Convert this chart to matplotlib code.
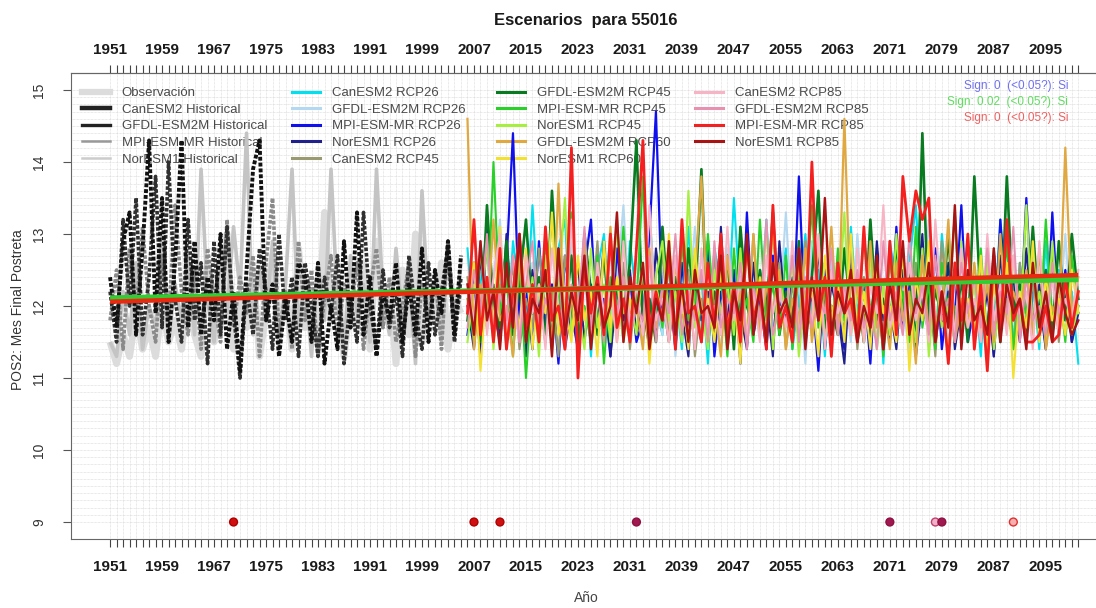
import numpy as np
import matplotlib
matplotlib.use("Agg")
import matplotlib.pyplot as plt
from matplotlib.lines import Line2D
from matplotlib.legend import Legend

plt.rcParams['font.family'] = ['Liberation Sans', 'DejaVu Sans']

# ---- data: month of final post-rain period (POS2) for station 55016 ----
years_hist = np.arange(1951, 2006)
years_fut = np.arange(2006, 2101)

obs = [11.5, 11.2, 11.6, 11.3, 11.9, 11.4, 11.7, 11.3, 12.0, 11.5, 11.8, 11.4, 12.2, 11.6, 11.3,
       12.6, 11.5, 12.3, 13.0, 11.4, 12.1, 11.7, 12.5, 11.3, 11.9, 12.7, 11.6, 12.2, 11.4, 12.8,
       11.7, 12.0, 11.5, 13.3, 11.8, 12.4, 11.3, 12.1, 11.7, 12.6, 11.4, 12.9, 11.8, 12.3, 11.2,
       12.5, 11.6, 13.0, 11.5, 12.2, 11.8, 12.6, 11.4, 12.1, 11.9]
can_hist = [12.4, 11.7, 12.9, 13.3, 11.6, 12.8, 14.3, 11.9, 13.5, 11.5, 12.6, 14.3, 11.7, 12.9, 11.6,
            12.4, 11.8, 13.0, 11.4, 12.2, 11.1, 12.5, 13.9, 14.3, 11.8, 12.3, 11.3, 12.1, 11.5, 12.6,
            12.4, 11.5, 12.6, 11.2, 12.0, 11.4, 12.9, 11.7, 13.3, 11.6, 12.4, 11.3, 12.2, 11.8, 12.6,
            11.5, 12.3, 11.6, 12.8, 11.5, 12.5, 11.9, 12.9, 11.6, 12.7]
gfdl_hist = [12.2, 11.5, 13.2, 12.0, 13.5, 11.6, 12.4, 13.8, 11.7, 14.0, 12.1, 11.5, 13.2, 11.8, 12.6,
             11.2, 12.9, 11.6, 13.1, 11.9, 11.0, 12.3, 11.6, 12.8, 12.2, 11.4, 13.0, 11.8, 12.4, 11.3,
             12.6, 12.0, 11.3, 12.4, 11.9, 12.7, 11.2, 12.1, 11.5, 13.3, 12.0, 11.4, 12.5, 11.7, 12.2,
             11.3, 12.7, 11.9, 11.4, 12.6, 11.6, 12.2, 12.8, 11.5, 12.4]
mpi_hist = [11.8, 12.5, 11.4, 12.8, 11.9, 13.1, 12.0, 11.5, 12.7, 11.8, 13.4, 12.2, 11.6, 12.5, 11.4,
            12.8, 12.1, 11.5, 13.2, 11.7, 12.4, 11.9, 12.7, 11.3, 12.6, 13.5, 11.6, 12.2, 11.4, 12.9,
            11.8, 12.5, 11.3, 12.1, 12.7, 11.5, 12.3, 11.9, 12.6, 11.4, 12.2, 12.8, 11.7, 12.4, 11.5,
            12.0, 12.6, 11.3, 12.3, 11.8, 12.5, 11.4, 12.9, 11.8, 12.2]
nor_hist = [11.5, 11.3, 12.2, 11.6, 12.6, 11.4, 12.0, 11.7, 13.0, 11.5, 12.3, 11.8, 12.7, 11.6, 13.9,
            12.1, 11.5, 12.8, 11.9, 13.1, 12.2, 14.4, 11.6, 12.5, 11.8, 12.9, 11.4, 12.3, 13.9, 11.7,
            12.4, 11.3, 12.6, 11.8, 13.9, 12.0, 11.4, 12.7, 11.9, 12.3, 11.5, 13.9, 12.1, 11.6, 12.8,
            11.8, 12.4, 11.2, 13.6, 11.9, 12.3, 11.5, 12.9, 11.7, 12.6]

can26 = [12.8, 11.6, 12.3, 13.1, 11.8, 12.5, 11.4, 12.9, 12.2, 11.7,
         13.4, 11.9, 12.4, 11.5, 12.8, 13.2, 11.6, 12.1, 12.7, 11.3,
         12.5, 13.0, 11.8, 12.3, 11.5, 12.9, 12.1, 11.7, 13.3, 12.0,
         11.6, 12.6, 12.2, 11.4, 13.1, 11.9, 12.4, 11.2, 12.8, 12.3,
         11.7, 13.5, 12.0, 11.5, 12.6, 11.9, 13.2, 11.6, 12.3, 12.8,
         11.4, 12.1, 13.0, 11.8, 12.5, 11.3, 12.7, 12.2, 11.6, 13.1,
         11.9, 12.4, 11.5, 12.8, 11.2, 12.9, 12.3, 11.7, 12.6, 13.4,
         11.8, 12.2, 11.4, 13.0, 12.1, 11.6, 12.7, 11.9, 12.4, 11.3,
         12.8, 11.7, 13.2, 12.0, 11.5, 12.6, 11.8, 12.3, 11.4, 12.9,
         11.6, 12.5, 11.9, 12.2, 11.2]
gfdl26 = [12.3, 11.5, 12.9, 11.8, 12.4, 13.2, 11.6, 12.0, 12.7, 11.4,
          12.6, 11.9, 13.0, 11.5, 12.2, 11.8, 12.9, 11.3, 12.5, 12.1,
          11.7, 12.8, 11.4, 12.3, 13.4, 11.8, 12.0, 11.5, 12.7, 12.2,
          11.6, 12.9, 11.3, 12.4, 11.9, 13.1, 11.7, 12.5, 12.0, 11.4,
          12.8, 11.6, 12.3, 13.0, 11.8, 12.2, 11.5, 12.6, 11.9, 13.3,
          11.7, 12.4, 11.2, 12.9, 12.1, 11.6, 12.7, 11.9, 12.3, 11.5,
          13.0, 11.8, 12.5, 11.4, 12.2, 12.8, 11.6, 12.1, 11.3, 12.6,
          11.9, 13.2, 11.7, 12.4, 11.5, 12.0, 12.9, 11.8, 12.3, 11.6,
          12.7, 11.4, 12.2, 13.1, 11.9, 12.5, 11.6, 12.8, 12.0, 11.5,
          12.4, 11.8, 13.0, 11.7, 12.1]
mpi26 = [11.6, 12.4, 11.3, 13.1, 12.0, 11.5, 12.6, 14.4, 11.8, 12.2,
         11.4, 12.9, 11.7, 12.3, 11.2, 12.7, 11.9, 11.4, 12.5, 13.2,
         11.6, 12.1, 11.3, 12.8, 11.9, 12.4, 11.5, 11.8, 13.0, 14.7,
         11.9, 12.3, 11.4, 12.6, 11.7, 12.0, 11.5, 12.9, 11.3, 12.2,
         11.8, 12.5, 11.2, 13.3, 11.6, 12.1, 11.4, 12.7, 11.9, 12.3,
         11.5, 13.8, 11.7, 12.2, 11.1, 12.6, 11.8, 12.0, 11.4, 12.9,
         11.6, 12.3, 11.2, 12.7, 11.9, 11.5, 13.1, 11.7, 12.4, 11.3,
         12.1, 11.6, 12.8, 11.4, 12.2, 11.8, 13.4, 11.5, 12.0, 11.7,
         12.6, 11.3, 13.2, 11.9, 12.4, 11.6, 13.5, 11.8, 12.1, 11.4,
         13.3, 11.7, 12.5, 11.5, 11.9]
nor26 = [12.0, 11.4, 12.7, 11.8, 12.3, 11.5, 13.0, 11.7, 12.2, 11.3,
         12.5, 11.9, 12.1, 11.6, 12.8, 11.4, 12.0, 12.6, 11.5, 12.3,
         11.7, 12.9, 11.3, 12.2, 11.8, 12.5, 11.6, 12.0, 11.4, 12.8,
         12.1, 11.5, 12.4, 11.9, 11.3, 12.7, 11.8, 12.2, 11.6, 13.1,
         11.5, 12.3, 11.9, 11.4, 12.6, 11.7, 12.1, 11.3, 12.9, 11.8,
         12.4, 11.5, 12.0, 11.7, 12.8, 11.4, 12.3, 11.9, 11.2, 12.6,
         11.7, 12.2, 11.5, 12.9, 11.8, 12.0, 11.4, 12.5, 11.6, 12.1,
         13.0, 11.5, 12.3, 11.7, 12.6, 11.4, 12.0, 11.8, 12.4, 11.6,
         12.2, 11.3, 12.7, 11.9, 12.1, 11.5, 12.8, 11.7, 12.3, 11.4,
         12.6, 11.8, 12.2, 11.5, 12.0]
can45 = [12.4, 11.6, 12.0, 12.9, 11.5, 12.3, 11.8, 12.6, 11.4, 12.1,
         11.7, 12.8, 11.9, 12.2, 11.3, 12.7, 12.0, 11.6, 12.4, 11.8,
         12.9, 11.5, 12.2, 11.7, 12.6, 11.4, 12.3, 11.9, 12.0, 11.6,
         12.8, 11.5, 12.3, 11.8, 12.5, 11.3, 12.1, 11.9, 12.7, 11.6,
         12.2, 11.8, 12.4, 11.5, 13.0, 11.7, 12.1, 11.9, 12.6, 11.4,
         12.3, 11.8, 12.9, 11.6, 12.2, 11.5, 12.5, 11.9, 11.7, 12.8,
         11.4, 12.4, 11.8, 12.1, 11.6, 12.7, 11.9, 12.2, 11.5, 12.6,
         11.8, 12.3, 11.3, 12.9, 11.7, 12.0, 11.6, 12.5, 11.9, 12.2,
         11.5, 12.8, 11.7, 12.1, 11.4, 12.6, 11.9, 12.3, 11.6, 12.0,
         12.7, 11.5, 12.4, 11.8, 12.2]
gfdl45 = [11.8, 12.6, 11.5, 13.4, 12.0, 11.7, 12.9, 11.6, 12.3, 13.2,
          11.9, 12.4, 11.5, 13.6, 12.1, 11.8, 12.7, 11.4, 13.0, 12.2,
          11.6, 12.8, 11.5, 12.3, 11.9, 12.6, 14.3, 11.7, 12.1, 11.5,
          13.1, 11.9, 12.4, 11.6, 12.8, 12.0, 13.9, 11.5, 12.2, 11.8,
          12.7, 11.4, 13.1, 12.0, 11.7, 12.5, 11.9, 13.3, 11.6, 12.2,
          11.8, 12.9, 11.5, 12.4, 13.6, 11.7, 12.0, 11.6, 12.8, 11.9,
          12.3, 11.5, 13.2, 11.8, 12.1, 11.6, 12.9, 11.9, 12.5, 11.4,
          14.4, 11.7, 12.2, 11.9, 13.0, 11.6, 12.4, 11.5, 13.8, 12.0,
          11.7, 12.6, 11.5, 13.8, 11.9, 12.3, 11.6, 13.1, 11.8, 12.5,
          11.6, 12.9, 11.8, 13.0, 12.1]
mpi45 = [12.1, 11.5, 12.8, 11.7, 14.0, 11.9, 12.4, 11.3, 12.6, 11.0,
         12.3, 11.8, 12.9, 11.4, 12.2, 11.6, 13.3, 11.9, 12.0, 11.5,
         12.7, 11.2, 12.4, 11.8, 13.1, 11.6, 12.0, 13.8, 11.5, 12.3,
         11.7, 12.6, 11.4, 12.9, 11.8, 12.2, 11.5, 13.0, 11.9, 12.4,
         11.3, 12.8, 11.7, 12.1, 11.5, 13.2, 11.8, 12.3, 11.6, 12.7,
         11.4, 12.5, 11.9, 13.4, 11.7, 12.2, 11.5, 12.8, 11.8, 12.0,
         11.6, 13.0, 11.9, 12.4, 11.3, 12.7, 11.8, 12.2, 11.5, 13.1,
         11.7, 12.3, 11.4, 12.6, 11.9, 13.3, 11.6, 12.1, 11.8, 12.8,
         11.5, 12.4, 11.7, 12.9, 11.4, 12.2, 11.9, 12.6, 11.6, 13.2,
         11.8, 12.3, 11.5, 12.7, 11.9]
nor45 = [11.5, 12.3, 11.8, 12.9, 11.4, 12.6, 11.7, 12.1, 13.0, 11.6,
         12.4, 11.3, 12.7, 11.9, 12.2, 13.5, 11.6, 12.0, 11.4, 12.8,
         11.7, 12.3, 11.5, 13.2, 11.9, 12.1, 11.6, 12.6, 11.3, 12.4,
         12.9, 11.8, 12.2, 11.5, 13.6, 11.7, 12.0, 11.4, 12.5, 11.9,
         12.3, 11.6, 12.8, 11.5, 12.1, 11.8, 13.1, 11.4, 12.4, 11.9,
         12.6, 11.3, 12.2, 11.7, 12.9, 11.5, 12.0, 11.8, 13.3, 11.6,
         12.2, 11.9, 12.7, 11.4, 12.3, 11.6, 13.0, 11.8, 12.1, 11.5,
         12.8, 11.3, 12.4, 11.7, 12.0, 11.5, 12.9, 11.8, 12.3, 11.6,
         12.6, 11.4, 12.1, 11.9, 12.7, 11.6, 13.4, 11.7, 12.2, 11.5,
         12.9, 11.8, 12.3, 11.6, 12.0]
gfdl60 = [14.6, 11.4, 12.3, 11.7, 13.2, 11.8, 12.0, 11.3, 12.7, 11.6,
          12.2, 11.9, 12.5, 11.4, 13.7, 11.6, 12.1, 11.8, 12.9, 11.5,
          12.3, 11.7, 13.1, 11.5, 12.4, 11.9, 12.0, 11.4, 12.8, 11.7,
          12.2, 11.5, 12.6, 11.9, 11.6, 12.4, 13.8, 11.7, 12.0, 11.3,
          12.7, 11.8, 12.2, 11.5, 13.0, 11.6, 12.3, 11.9, 12.5, 11.4,
          12.1, 11.7, 12.8, 11.5, 12.2, 11.9, 13.1, 11.6, 14.6, 11.8,
          12.3, 11.5, 12.9, 11.7, 12.0, 11.4, 12.6, 11.8, 12.2, 11.2,
          12.7, 11.6, 12.4, 11.9, 13.2, 11.5, 12.1, 11.7, 12.6, 11.8,
          12.3, 11.5, 13.0, 11.7, 12.2, 11.9, 12.5, 11.6, 12.8, 11.4,
          12.0, 11.7, 14.2, 11.9, 12.4]
nor60 = [11.9, 12.6, 11.1, 12.4, 11.8, 13.1, 11.5, 12.2, 11.7, 12.8,
         11.4, 12.3, 11.9, 13.3, 11.6, 12.0, 11.5, 12.7, 11.8, 12.2,
         11.3, 12.9, 11.7, 12.4, 11.5, 12.1, 11.9, 12.6, 11.2, 12.3,
         11.8, 13.0, 11.6, 12.2, 11.4, 12.8, 11.9, 12.1, 11.5, 12.5,
         11.7, 12.3, 11.2, 12.9, 11.8, 12.4, 11.5, 13.2, 11.7, 12.0,
         11.6, 12.6, 11.9, 12.2, 11.3, 12.7, 11.8, 12.3, 11.5, 13.0,
         11.7, 12.2, 11.4, 12.6, 11.9, 12.0, 11.5, 12.8, 11.1, 12.4,
         11.8, 12.9, 11.6, 12.2, 11.3, 12.5, 11.9, 12.1, 11.6, 12.7,
         11.4, 12.3, 11.8, 12.6, 11.0, 12.2, 11.7, 12.9, 11.5, 12.4,
         11.8, 12.1, 11.6, 12.5, 11.9]
can85 = [12.2, 11.8, 12.9, 11.6, 12.4, 13.0, 11.7, 12.1, 11.5, 12.7,
         11.9, 12.3, 11.4, 12.8, 12.0, 11.6, 13.2, 11.8, 12.4, 11.5,
         12.6, 11.9, 12.2, 11.5, 12.9, 11.7, 12.3, 11.6, 13.4, 11.8,
         12.1, 11.5, 12.7, 11.9, 12.3, 11.4, 12.8, 11.7, 12.0, 11.6,
         13.1, 11.8, 12.4, 11.6, 12.2, 11.5, 12.7, 11.9, 12.3, 11.7,
         12.9, 11.6, 12.1, 11.8, 13.0, 11.4, 12.5, 11.9, 12.2, 11.6,
         12.8, 11.5, 12.3, 11.9, 13.4, 11.7, 12.0, 11.6, 12.6, 11.8,
         12.2, 11.5, 13.2, 11.9, 12.4, 11.6, 12.8, 11.7, 12.1, 11.5,
         13.0, 11.8, 12.3, 11.6, 12.7, 11.9, 12.2, 11.4, 12.9, 11.7,
         12.4, 11.6, 12.1, 11.8, 12.5]
gfdl85 = [11.7, 12.5, 11.9, 13.0, 11.6, 12.2, 11.8, 12.7, 11.5, 12.3,
          12.9, 11.6, 12.1, 11.8, 12.6, 11.4, 12.3, 11.9, 13.1, 11.7,
          12.2, 11.5, 12.8, 11.9, 12.4, 11.6, 12.0, 11.8, 12.7, 11.5,
          12.3, 11.9, 13.0, 11.6, 12.2, 11.8, 12.5, 11.5, 12.9, 11.7,
          12.1, 11.9, 12.6, 11.4, 12.3, 11.8, 13.2, 11.6, 12.0, 11.9,
          12.7, 11.5, 12.4, 11.7, 12.1, 11.9, 12.8, 11.6, 12.3, 11.8,
          12.5, 11.7, 12.0, 11.4, 12.9, 11.8, 12.2, 11.6, 13.0, 11.9,
          12.3, 11.6, 12.7, 11.8, 12.1, 11.5, 12.6, 11.9, 12.4, 11.7,
          12.8, 11.6, 12.2, 11.9, 13.1, 11.5, 12.4, 11.8, 12.0, 11.6,
          12.6, 11.9, 12.3, 11.7, 12.2]
mpi85 = [11.9, 13.2, 11.6, 12.4, 11.5, 12.8, 11.4, 12.2, 13.0, 11.7,
         12.3, 11.5, 13.1, 11.8, 12.0, 11.4, 14.2, 11.0, 12.6, 11.9,
         12.4, 11.6, 13.0, 11.7, 12.1, 11.5, 12.8, 14.3, 11.6, 12.2,
         11.8, 12.7, 11.4, 13.2, 11.9, 12.0, 11.5, 12.6, 11.7, 13.0,
         11.6, 12.3, 11.5, 12.9, 11.8, 12.2, 11.4, 13.4, 11.7, 12.0,
         11.5, 12.8, 11.6, 14.0, 11.8, 12.4, 11.3, 12.6, 11.9, 12.1,
         11.5, 13.1, 11.7, 12.3, 11.4, 12.9, 11.6, 13.8, 12.9, 13.6,
         13.2, 13.5, 11.5, 12.2, 11.2, 12.6, 11.8, 13.0, 11.4, 12.3,
         11.1, 12.7, 11.6, 13.2, 11.8, 12.1, 11.5, 11.5, 11.6, 12.0,
         11.5, 11.6, 12.4, 11.7, 12.2]
nor85 = [12.3, 11.6, 12.9, 11.8, 12.2, 11.4, 12.6, 11.7, 13.0, 11.5,
         12.1, 11.9, 12.5, 11.3, 12.8, 11.6, 12.2, 11.8, 12.7, 11.4,
         12.3, 11.7, 12.0, 13.3, 11.5, 12.4, 11.9, 12.6, 11.4, 12.1,
         11.8, 12.9, 11.6, 12.3, 11.5, 12.5, 11.9, 12.0, 11.7, 12.7,
         11.4, 12.2, 11.8, 13.0, 11.6, 12.3, 11.5, 12.6, 11.9, 12.1,
         11.7, 12.8, 11.4, 12.4, 11.8, 13.5, 11.6, 12.2, 11.9, 12.5,
         11.5, 12.0, 11.7, 12.7, 11.4, 12.3, 11.8, 12.9, 11.6, 12.1,
         11.9, 12.6, 11.5, 12.2, 11.7, 13.4, 11.4, 12.5, 11.8, 12.0,
         11.6, 12.8, 11.5, 12.3, 11.9, 12.1, 11.4, 12.6, 11.7, 12.2,
         11.5, 12.4, 11.9, 11.6, 11.8]

# linear trends (start/end of period) and their significance
trend_years = [1951, 2100]
trend_green = [12.11, 12.37]
trend_red = [12.06, 12.43]
sign_texts = ["Sign: 0  (<0.05?): Si", "Sign: 0.02  (<0.05?): Si", "Sign: 0  (<0.05?): Si"]
sign_colors = ["#7070f0", "#60dd60", "#f06060"]

# years flagged along the bottom of the chart
flag_years = [1970, 2007, 2011, 2032, 2071, 2078, 2079, 2090]
flag_values = [9, 9, 9, 9, 9, 9, 9, 9]
flag_faces = ["#d01010", "#d01010", "#d01010", "#a01850", "#a01850", "#f0b0c8", "#a01850", "#f6b0b0"]
flag_edges = ["#b00000", "#b00000", "#b00000", "#901040", "#901040", "#c04070", "#901040", "#e03030"]

hist_series = [
    ("Observación", obs, dict(color="#dcdcdc", lw=5.0, ls="-")),
    ("NorESM1 Historical", nor_hist, dict(color="#c4c4c4", lw=2.6, ls="-")),
    ("MPI-ESM-MR Historical", mpi_hist, dict(color="#8a8a8a", lw=2.6, ls=(0, (1, 0.5)))),
    ("GFDL-ESM2M Historical", gfdl_hist, dict(color="#303030", lw=2.6, ls=(0, (1, 0.5)))),
    ("CanESM2 Historical", can_hist, dict(color="#111111", lw=2.8, ls=(0, (1, 0.5)))),
]
fut_series = [
    ("CanESM2 RCP26", can26, "#00e0ee", 1.5),
    ("GFDL-ESM2M RCP26", gfdl26, "#b4d8f0", 1.5),
    ("MPI-ESM-MR RCP26", mpi26, "#1010ee", 1.6),
    ("NorESM1 RCP26", nor26, "#20208c", 1.5),
    ("CanESM2 RCP45", can45, "#9a9a70", 1.5),
    ("GFDL-ESM2M RCP45", gfdl45, "#087a20", 1.9),
    ("MPI-ESM-MR RCP45", mpi45, "#28d028", 1.5),
    ("NorESM1 RCP45", nor45, "#a6ee40", 1.5),
    ("GFDL-ESM2M RCP60", gfdl60, "#e0a840", 1.6),
    ("NorESM1 RCP60", nor60, "#f4e030", 1.5),
    ("CanESM2 RCP85", can85, "#f8b4c4", 1.5),
    ("GFDL-ESM2M RCP85", gfdl85, "#e890b0", 1.4),
    ("MPI-ESM-MR RCP85", mpi85, "#f42020", 2.0),
    ("NorESM1 RCP85", nor85, "#a81414", 1.7),
]

fig = plt.figure(figsize=(10.96, 6.08), dpi=100)
# plot region runs past the right edge of the canvas
ax = fig.add_axes([0.0651, 0.1130, 0.9541, 0.7674])
ax.set_xlim(1945.04, 2105.96)
ax.set_ylim(8.76, 15.24)
ax.set_axisbelow(True)

# light dotted grid: every year and every tenth
ax.set_xticks(np.arange(1951, 2101, 8))
ax.set_xticks(np.arange(1951, 2101), minor=True)
ax.set_yticks(np.arange(9, 16))
ax.set_yticks(np.arange(9, 15.01, 0.1), minor=True)
ax.grid(which="both", color="#d4d4d4", lw=0.5, ls=(0, (1, 1)))

ax.tick_params(axis="x", which="both", direction="out", length=6, width=0.8,
               color="#444444", pad=9, labelsize=11)
ax.tick_params(axis="y", which="major", direction="out", length=6, width=0.8,
               color="#555555", pad=12, labelsize=10, labelcolor="#333333")
ax.tick_params(axis="y", which="minor", length=0)
for lab in ax.get_xticklabels():
    lab.set_fontweight("bold")
    lab.set_color("#1a1a1a")
for lab in ax.get_yticklabels():
    lab.set_rotation(90)
    lab.set_va("center")

top = ax.secondary_xaxis("top")
top.set_xticks(np.arange(1951, 2101, 8))
top.set_xticks(np.arange(1951, 2101), minor=True)
top.tick_params(axis="x", which="both", direction="out", length=6, width=0.8,
                color="#444444", pad=5, labelsize=11)
for lab in top.get_xticklabels():
    lab.set_fontweight("bold")
    lab.set_color("#1a1a1a")
top.spines["top"].set_color("#666666")

for side in ["left", "bottom", "top"]:
    ax.spines[side].set_color("#666666")
ax.spines["right"].set_visible(False)

for name, vals, st in hist_series:
    ax.plot(years_hist, vals, zorder=2, solid_capstyle="butt", **st)
for name, vals, col, lw in fut_series:
    ax.plot(years_fut, vals, color=col, lw=lw, zorder=3)

ax.plot(trend_years, trend_green, color="#33cc33", lw=4.0, zorder=5, solid_capstyle="butt")
ax.plot(trend_years, trend_red, color="#e82a10", lw=3.2, zorder=5, solid_capstyle="butt")

ax.scatter(flag_years, flag_values, s=32, c=flag_faces, edgecolors=flag_edges,
           linewidths=1.0, zorder=6)

# legend: four columns, no frame, drawn beneath the series
hist_handles = {
    "Observación": Line2D([], [], color="#dcdcdc", lw=4.5),
    "CanESM2 Historical": Line2D([], [], color="#222222", lw=3.2),
    "GFDL-ESM2M Historical": Line2D([], [], color="#222222", lw=2.4),
    "MPI-ESM-MR Historical": Line2D([], [], color="#999999", lw=1.8),
    "NorESM1 Historical": Line2D([], [], color="#cccccc", lw=1.8),
}
hist_order = ["Observación", "CanESM2 Historical", "GFDL-ESM2M Historical",
              "MPI-ESM-MR Historical", "NorESM1 Historical"]
columns = [
    [(hist_handles[n], n) for n in hist_order],
    [(Line2D([], [], color=c, lw=max(lw, 2.2)), n) for n, v, c, lw in fut_series[0:5]],
    [(Line2D([], [], color=c, lw=max(lw, 2.2)), n) for n, v, c, lw in fut_series[5:10]],
    [(Line2D([], [], color=c, lw=max(lw, 2.2)), n) for n, v, c, lw in fut_series[10:14]],
]
col_x = [82, 292, 497, 695]
for cx, items in zip(col_x, columns):
    leg = Legend(ax, [h for h, n in items], [n for h, n in items],
                 loc="upper left", bbox_to_anchor=(cx / 1096, (608 - 87) / 608),
                 bbox_transform=fig.transFigure, frameon=False, fontsize=9.5,
                 handlelength=2.1, handletextpad=0.9, labelspacing=0.33,
                 borderpad=0, borderaxespad=0, labelcolor="#4a4a4a")
    leg.set_zorder(1)
    ax.add_artist(leg)

for i, (txt, col) in enumerate(zip(sign_texts, sign_colors)):
    fig.text(1068 / 1096, 1 - (86 + 16 * i) / 608, txt, color=col, fontsize=8.5,
             ha="right", va="center")

fig.text(586 / 1096, 1 - 20 / 608, "Escenarios  para 55016", ha="center", va="center",
         fontsize=12, fontweight="bold", color="#1a1a1a")
fig.text(586 / 1096, 1 - 598 / 608, "Año", ha="center", va="center",
         fontsize=10, color="#444444")
fig.text(18 / 1096, 1 - 310 / 608, "POS2: Mes Final Postreta", ha="center", va="center",
         rotation=90, fontsize=10, color="#333333")

fig.savefig("out.png", dpi=100)
